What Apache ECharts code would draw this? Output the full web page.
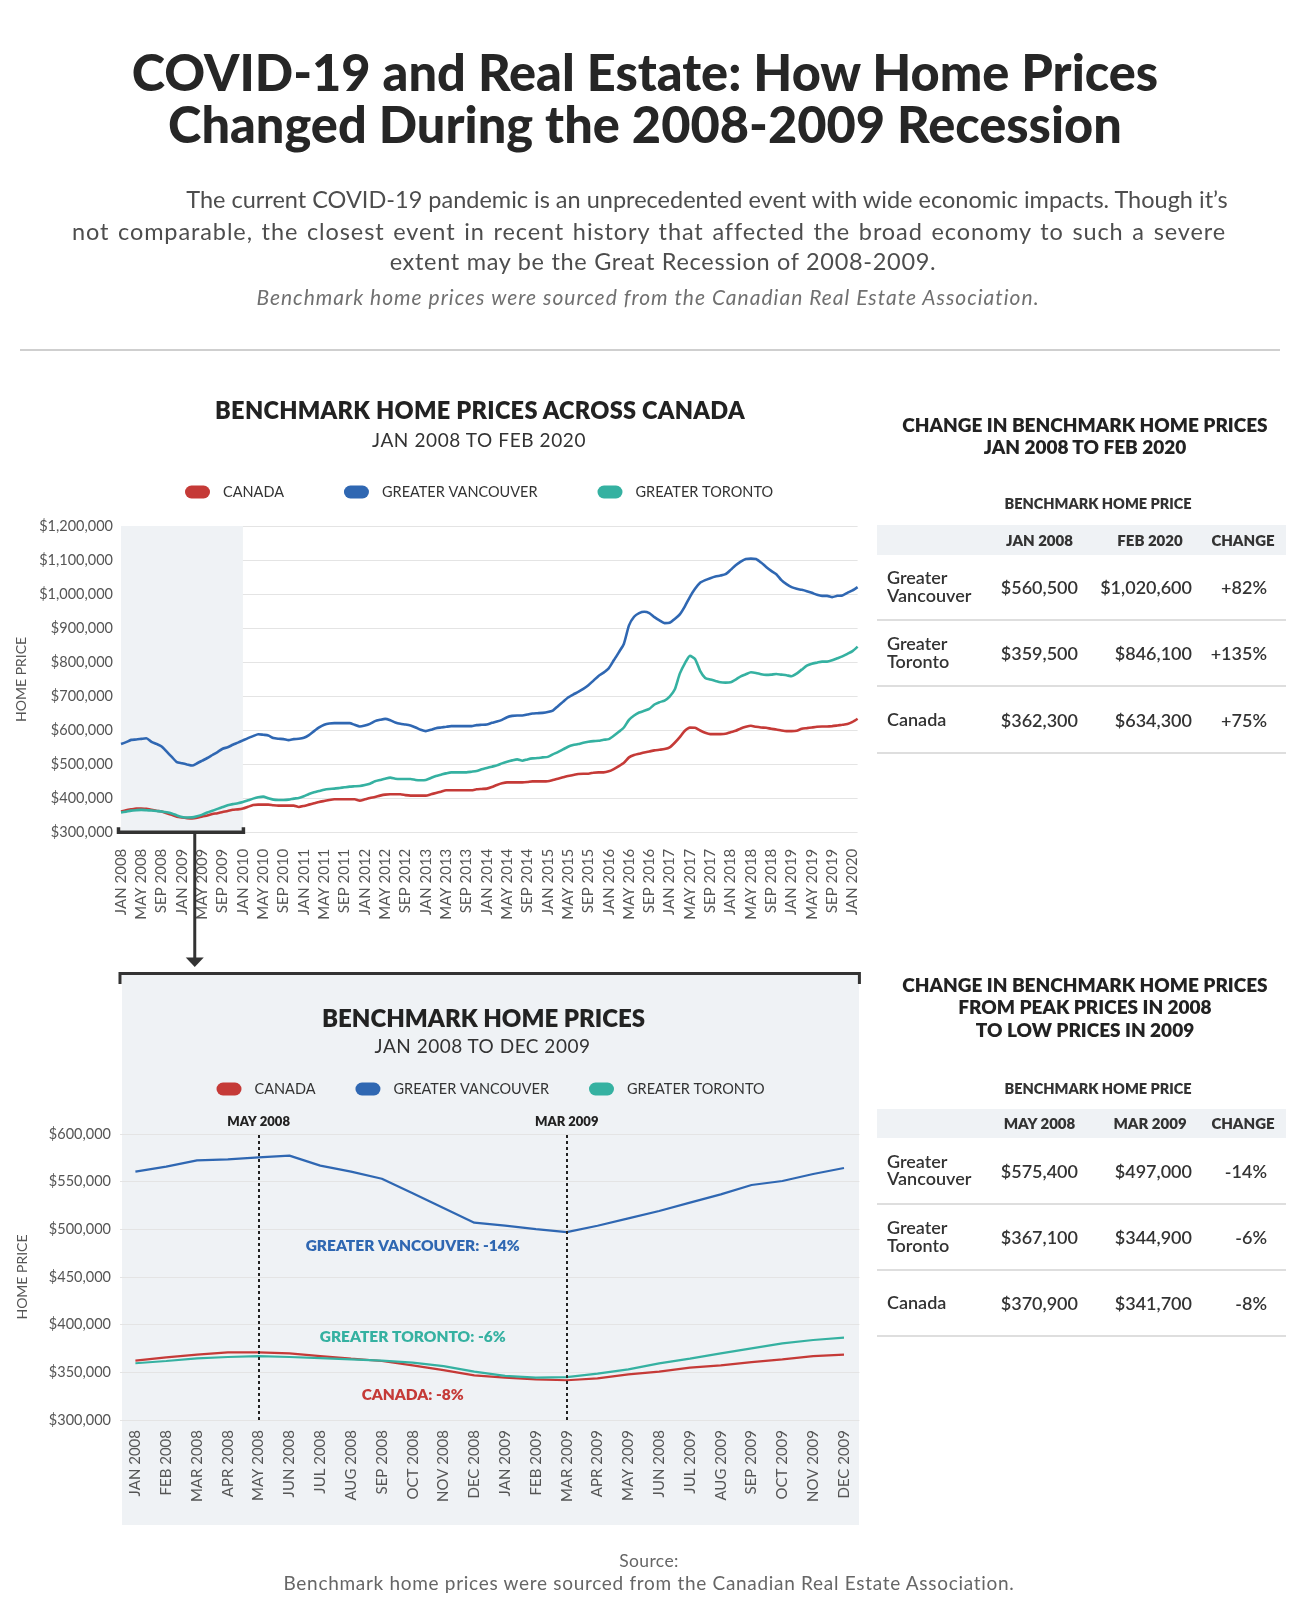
<!DOCTYPE html>
<html><head><meta charset="utf-8">
<script src="https://cdn.jsdelivr.net/npm/echarts/dist/echarts.min.js"></script>
<style>
html,body{margin:0;padding:0;background:#fff;}
body{width:1300px;height:1607px;position:relative;overflow:hidden;font-family:Lato,'Noto Sans',sans-serif;color:#222;}
.t{position:absolute;white-space:nowrap;z-index:3;}
#chart{position:absolute;left:0;top:0;width:1300px;height:1607px;z-index:2;}
.panel{position:absolute;z-index:1;}
</style></head>
<body>
<div class="panel" style="left:122px;top:975px;width:737px;height:550px;background:#eff2f5;"></div>
<div class="panel" style="left:20px;top:349px;width:1260px;height:1.5px;background:#cfcfcf;"></div>
<div id="chart"></div>
<script>
// ---------------- DATA ----------------
const seriesNames = ['CANADA', 'GREATER VANCOUVER', 'GREATER TORONTO'];
const seriesColors = ['#c53a37', '#2f67b2', '#35b1a1'];

const monthAbbr = ['JAN','FEB','MAR','APR','MAY','JUN','JUL','AUG','SEP','OCT','NOV','DEC'];
const topMonths = [];
for (let y = 2008; y <= 2020; y++) for (let m = 0; m < 12; m++) { if (y === 2020 && m > 1) break; topMonths.push(monthAbbr[m] + ' ' + y); }

const bottomLabels = ['JAN 2008','FEB 2008','MAR 2008','APR 2008','MAY 2008','JUN 2008','JUL 2008','AUG 2008','SEP 2008','OCT 2008','NOV 2008','DEC 2008',
  'JAN 2009','FEB 2009','MAR 2009','APR 2009','MAY 2009','JUN 2008','JUL 2009','AUG 2009','SEP 2009','OCT 2009','NOV 2009','DEC 2009'];

const canada = [362300,365700,368500,371000,370900,369900,367100,364300,361900,357300,352400,346800,
344400,342700,341700,343700,347900,350700,354900,357300,360800,363600,367100,368500,
371000,376000,381000,382400,382400,382400,380500,379500,379500,379500,379500,375600,
378500,382400,386300,390200,393200,396100,398000,398000,398000,398000,398000,394100,
398000,402000,404900,408800,411700,412700,412700,412700,410200,408800,408800,408800,
408800,412700,416600,420500,424400,424400,424400,424400,424400,424400,427300,428300,
429300,434100,440000,444900,447800,447800,447800,447800,448800,450700,450700,450700,
451200,454600,458500,462400,466300,469300,472200,473200,473200,476100,477100,477100,
480000,486800,495600,505400,521000,527800,531700,535600,538500,541500,543400,545400,
550200,563900,580500,599000,608300,607800,600000,593200,589300,589300,589300,590200,
595100,599000,605900,610700,613700,610700,608800,607800,604900,602900,600000,598000,
598000,599000,604900,606800,608800,610700,611700,611700,612700,614600,616600,619000,
625000,634300];

const vancouver = [560500,565700,572400,573400,575400,577300,566800,560500,553100,537800,522400,507000,
503800,500300,497000,503800,511500,519200,528000,536700,546500,550700,558000,564300,
571000,577600,583400,589000,587300,585400,577600,575600,574600,571700,574600,575600,
578500,586300,598000,608800,616600,620500,621500,621500,621500,621500,616600,611700,
614600,619500,627300,631200,634100,630200,623400,619500,617600,614600,608800,602000,
598000,602000,606800,608800,610700,612700,612700,612700,612700,612700,615600,616600,
617600,622400,626300,631200,639000,642900,643900,643900,646800,649800,650700,651700,
654000,658500,671200,683900,696600,705400,713200,722000,732700,746300,760000,769800,
782400,805900,829300,854600,908300,933700,944400,948300,944400,932700,922900,915100,
916100,926800,940500,964400,992200,1015600,1033200,1041000,1046800,1051700,1054600,1058500,
1071200,1084900,1095600,1103400,1104400,1103400,1092700,1080000,1068300,1058500,1041000,1029300,
1020500,1015600,1012700,1008800,1003900,998000,995100,995100,991200,995100,996100,1004000,
1011000,1020600];

const toronto = [359500,361900,364700,366100,367100,366100,365000,363600,362200,360100,356500,350700,
346200,344400,344900,348600,353100,359400,364300,369900,375200,380400,383900,386400,
390000,395000,400000,404000,405900,401000,397100,396100,396100,397100,400000,402000,
406800,413700,418500,422400,426300,428300,429300,431200,433200,435100,436100,437100,
440000,443900,450700,454600,458500,461500,458500,457600,457600,457600,454600,453700,
454600,460500,466300,470200,474100,477100,477100,477100,477100,479000,481000,485900,
489800,493700,497600,503400,508300,512200,515100,511200,515100,518000,519000,521000,
522500,529800,536600,544400,552200,557100,560000,563900,566800,568800,569800,572700,
574600,584400,596100,608800,631200,643900,652700,657600,663400,676100,682900,687800,
699500,720000,766800,797000,819000,810000,775000,754100,749300,745400,741500,740500,
741500,749300,759000,764900,770700,768800,764900,763000,763900,765900,763900,762000,
759000,766800,778500,790200,796100,799000,802000,802000,805900,811700,817600,825000,
833000,846100];

const yTicksTop = [300000, 1200000, 100000];   // min, max, step
const yTicksBottom = [300000, 600000, 50000];

const tableRegions = ['Greater<br>Vancouver', 'Greater<br>Toronto', 'Canada'];
const t1Headers = ['JAN 2008', 'FEB 2020', 'CHANGE'];
const t1Col1 = ['$560,500', '$359,500', '$362,300'];
const t1Col2 = ['$1,020,600', '$846,100', '$634,300'];
const t1Change = ['+82%', '+135%', '+75%'];
const t2Headers = ['MAY 2008', 'MAR 2009', 'CHANGE'];
const t2Col1 = ['$575,400', '$367,100', '$370,900'];
const t2Col2 = ['$497,000', '$344,900', '$341,700'];
const t2Change = ['-14%', '-6%', '-8%'];

// ---------------- HTML TEXT ----------------
function T(html, x, y, align, style) {
  const d = document.createElement('div');
  d.className = 't';
  d.innerHTML = html;
  let tr = 'translateY(-50%)';
  if (align === 'center') { d.style.left = x + 'px'; tr = 'translate(-50%,-50%)'; d.style.textAlign = 'center'; }
  else if (align === 'right') { d.style.right = (1300 - x) + 'px'; d.style.textAlign = 'right'; }
  else { d.style.left = x + 'px'; }
  d.style.top = y + 'px';
  d.style.transform = tr;
  d.style.cssText += ';' + (style || '');
  document.body.appendChild(d);
  return d;
}
function R(x, y, w, h, color) {
  const d = document.createElement('div');
  d.className = 'panel';
  d.style.cssText = `left:${x}px;top:${y}px;width:${w}px;height:${h}px;background:${color};`;
  document.body.appendChild(d);
}

T('COVID-19 and Real Estate: How Home Prices<br>Changed During the 2008-2009 Recession', 645, 98, 'center',
  'font-size:50.5px;font-weight:900;line-height:52px;color:#262626;');
const intro = 'font-size:23.5px;color:#4d4d4d;';
T('The current COVID-19 pandemic is an unprecedented event with wide economic impacts. Though it’s', 707, 199, 'center', intro);
T('not comparable, the closest event in recent history that affected the broad economy to such a severe', 649, 230.5, 'center', intro + 'letter-spacing:0.9px;word-spacing:1.8px;');
T('extent may be the Great Recession of 2008-2009.', 663, 261, 'center', intro + 'letter-spacing:0.7px;');
T('Benchmark home prices were sourced from the Canadian Real Estate Association.', 648, 296, 'center',
  'font-size:21px;font-style:italic;color:#707070;letter-spacing:1px;');

T('BENCHMARK HOME PRICES ACROSS CANADA', 480, 410, 'center', 'font-size:23.5px;font-weight:800;color:#222;letter-spacing:0.3px;');
T('JAN 2008 TO FEB 2020', 479, 439, 'center', 'font-size:19px;color:#333;letter-spacing:0.6px;');
T('BENCHMARK HOME PRICES', 483.5, 1017, 'center', 'font-size:24px;font-weight:800;color:#222;');
T('JAN 2008 TO DEC 2009', 482.5, 1045, 'center', 'font-size:19px;color:#333;letter-spacing:0.5px;');

T('Source:', 649, 1560, 'center', 'font-size:17.5px;color:#666;letter-spacing:0.4px;');
T('Benchmark home prices were sourced from the Canadian Real Estate Association.', 649, 1582, 'center', 'font-size:19px;color:#666;letter-spacing:0.7px;');

function table(titleLines, titleY, subY, headTop, headers, c1, c2, c3) {
  T(titleLines, 1085, titleY, 'center', 'font-size:19px;font-weight:800;line-height:22.5px;color:#222;');
  T('BENCHMARK HOME PRICE', 1098, subY, 'center', 'font-size:14.5px;font-weight:800;color:#333;');
  R(877, headTop, 409, 29.5, '#eff2f5');
  const hy = headTop + 14.7;
  T(headers[0], 1039.5, hy, 'center', 'font-size:15px;font-weight:800;color:#333;');
  T(headers[1], 1150, hy, 'center', 'font-size:15px;font-weight:800;color:#333;');
  T(headers[2], 1243, hy, 'center', 'font-size:15px;font-weight:800;color:#333;');
  for (let i = 0; i < 3; i++) {
    const top = headTop + 29.5 + i * 66.3;
    const cy = top + 32.5;
    T(tableRegions[i], 887, cy, 'left', 'font-size:18px;font-weight:600;line-height:17.7px;color:#333;');
    T(c1[i], 1078, cy, 'right', 'font-size:18px;font-weight:600;color:#333;');
    T(c2[i], 1192, cy, 'right', 'font-size:18px;font-weight:600;color:#333;');
    T(c3[i], 1267, cy, 'right', 'font-size:18px;font-weight:600;color:#333;');
    R(877, top + 64.5, 409, 2, '#dedede');
  }
}
table('CHANGE IN BENCHMARK HOME PRICES<br>JAN 2008 TO FEB 2020', 435.5, 503.3, 525, t1Headers, t1Col1, t1Col2, t1Change);
table('CHANGE IN BENCHMARK HOME PRICES<br>FROM PEAK PRICES IN 2008<br>TO LOW PRICES IN 2009', 1007.5, 1087.7, 1108.5, t2Headers, t2Col1, t2Col2, t2Change);

// ---------------- CHART ----------------
const chart = echarts.init(document.getElementById('chart'), null, {renderer: 'canvas'});
const gridTop = {left: 121, top: 526, width: 736.6, height: 306.7};
const gridBot = {left: 120, top: 1134, width: 739.4, height: 286};
const money = v => '$' + v.toLocaleString('en-US');
const axisLbl = {color: '#555', fontSize: 14.5, fontFamily: 'Lato'};
const split = {show: true, lineStyle: {color: '#e4e4e4', width: 1.2}};
const pill = 'path://M6.5,0 L18.5,0 A6.5,6.5 0 0 1 18.5,13 L6.5,13 A6.5,6.5 0 0 1 6.5,0 Z';
const topData = [canada, vancouver, toronto];
const changes = t2Change;
const annot = [
  {name: 'CANADA: ' + changes[2], coord: [9, 326200]},
  {name: 'GREATER VANCOUVER: ' + changes[0], coord: [9, 482000]},
  {name: 'GREATER TORONTO: ' + changes[1], coord: [9, 387400]}
];
const mayIdx = bottomLabels.indexOf('MAY 2008');
const marIdx = bottomLabels.indexOf('MAR 2009');

const series = [];
series.push({
  type: 'line', name: 'band', xAxisIndex: 0, yAxisIndex: 0, data: [], z: -1, silent: true,
  markArea: {silent: true, itemStyle: {color: '#eff2f5'}, data: [[{xAxis: topMonths[0]}, {xAxis: topMonths[24]}]]}
});
for (let k = 0; k < 3; k++) {
  series.push({
    type: 'line', name: seriesNames[k], xAxisIndex: 0, yAxisIndex: 0, data: topData[k],
    showSymbol: false, smooth: 0.2, color: seriesColors[k], lineStyle: {width: 2.6, color: seriesColors[k]}, z: 3
  });
}
for (let k = 0; k < 3; k++) {
  const s = {
    type: 'line', name: seriesNames[k], xAxisIndex: 1, yAxisIndex: 1, data: topData[k].slice(0, 24),
    showSymbol: false, color: seriesColors[k], lineStyle: {width: 2.2, color: seriesColors[k]}, z: 3,
    markPoint: {symbol: 'circle', symbolSize: 0, silent: true,
      label: {show: true, position: 'inside', formatter: p => p.name, color: seriesColors[k], fontWeight: 800, fontSize: 15.5, fontFamily: 'Lato'},
      data: [annot[k]]}
  };
  if (k === 1) {
    s.markLine = {symbol: 'none', silent: true,
      lineStyle: {type: [3, 3], color: '#222', width: 2},
      label: {show: true, position: 'end', formatter: p => p.name, color: '#222', fontWeight: 800, fontSize: 13, fontFamily: 'Lato', distance: 6},
      data: [{name: bottomLabels[mayIdx], xAxis: mayIdx}, {name: bottomLabels[marIdx], xAxis: marIdx}]};
  }
  series.push(s);
}

const option = {
  animation: false,
  backgroundColor: 'transparent',
  textStyle: {fontFamily: 'Lato'},
  legend: [
    {data: seriesNames, left: 185, top: 484.5, padding: 0, itemWidth: 25, itemHeight: 13, itemGap: 60, icon: pill,
     textStyle: {fontSize: 14.5, color: '#333', padding: [0, 0, 0, 8]}},
    {data: seriesNames, left: 216.5, top: 1081.5, padding: 0, itemWidth: 25, itemHeight: 13, itemGap: 40, icon: pill,
     textStyle: {fontSize: 14.5, color: '#333', padding: [0, 0, 0, 8]}}
  ],
  grid: [gridTop, gridBot],
  xAxis: [
    {type: 'category', gridIndex: 0, data: topMonths, boundaryGap: false,
     axisLine: {show: false}, axisTick: {show: false},
     axisLabel: Object.assign({rotate: 90, interval: 3, margin: 16}, axisLbl, {fontSize: 15})},
    {type: 'category', gridIndex: 1, data: bottomLabels, boundaryGap: true,
     axisLine: {show: false}, axisTick: {show: false},
     axisLabel: Object.assign({rotate: 90, interval: 0, margin: 10}, axisLbl, {fontSize: 15})}
  ],
  yAxis: [
    {type: 'value', gridIndex: 0, min: yTicksTop[0], max: yTicksTop[1], interval: yTicksTop[2],
     axisLine: {show: false}, axisTick: {show: false}, splitLine: split,
     axisLabel: Object.assign({formatter: money, margin: 8}, axisLbl),
     name: 'HOME PRICE', nameLocation: 'middle', nameGap: 92, nameTextStyle: {color: '#555', fontSize: 14, fontFamily: 'Lato'}},
    {type: 'value', gridIndex: 1, min: yTicksBottom[0], max: yTicksBottom[1], interval: yTicksBottom[2],
     axisLine: {show: false}, axisTick: {show: false}, splitLine: split,
     axisLabel: Object.assign({formatter: money, margin: 9}, axisLbl),
     name: 'HOME PRICE', nameLocation: 'middle', nameGap: 91, nameTextStyle: {color: '#555', fontSize: 14, fontFamily: 'Lato'}}
  ],
  series: series
};
chart.setOption(option);

// decorations: bracket + arrow linking the two charts
const p0 = chart.convertToPixel({xAxisIndex: 0, yAxisIndex: 0}, [0, yTicksTop[0]]);
const p24 = chart.convertToPixel({xAxisIndex: 0, yAxisIndex: 0}, [24, yTicksTop[0]]);
const by = p0[1] - 0.5;
const x0 = p0[0] - 2.5, x1 = p24[0] + 0.5;
const ax = p0[0] + (p24[0] - p0[0]) * 0.605;
const bTop = 973.5, bL = gridBot.left, bR = gridBot.left + gridBot.width;
chart.setOption({
  graphic: [
    {type: 'polyline', z: 10, shape: {points: [[x0, by - 5], [x0, by], [x1, by], [x1, by - 5]]}, style: {stroke: '#333', lineWidth: 3.5, fill: null}},
    {type: 'line', z: 10, shape: {x1: ax, y1: by, x2: ax, y2: 960}, style: {stroke: '#333', lineWidth: 3}},
    {type: 'polygon', z: 10, shape: {points: [[ax - 9, 957.5], [ax + 9, 957.5], [ax, 967]]}, style: {fill: '#333'}},
    {type: 'polyline', z: 10, shape: {points: [[bL, bTop + 10.5], [bL, bTop], [bR, bTop], [bR, bTop + 10.5]]}, style: {stroke: '#333', lineWidth: 3, fill: null}}
  ]
});
</script>
</body></html>
